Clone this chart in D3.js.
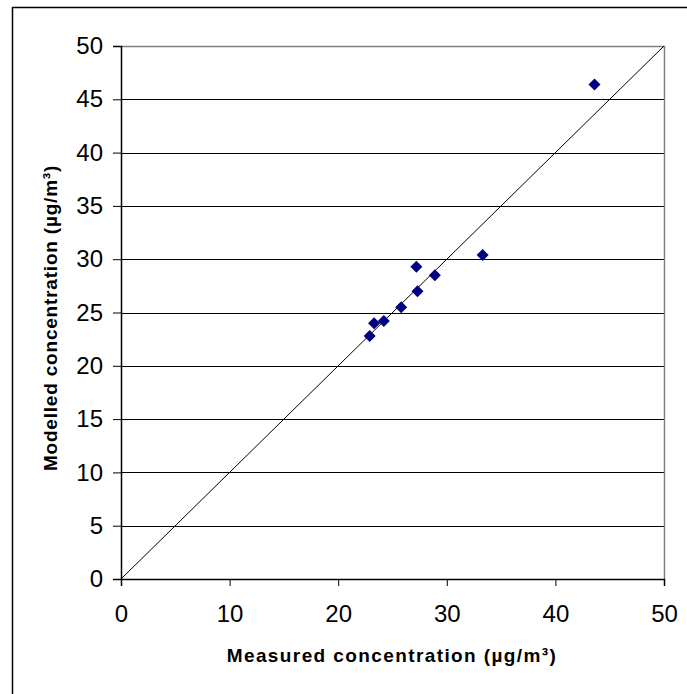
<!DOCTYPE html>
<html><head><meta charset="utf-8">
<script src="https://cdn.jsdelivr.net/npm/d3@7"></script>
<style>body{margin:0;background:#fff;} svg{display:block;}</style>
</head><body>
<svg id="c" width="687" height="694"></svg>
<script>
const measured = [22.9, 23.3, 24.2, 25.8, 27.3, 27.2, 28.9, 33.3, 43.6];
const modelled = [22.8, 24.0, 24.2, 25.5, 27.0, 29.3, 28.5, 30.4, 46.4];
const xTicks = [0, 10, 20, 30, 40, 50];
const yTicks = [0, 5, 10, 15, 20, 25, 30, 35, 40, 45, 50];
const xTitle = "Measured concentration (µg/m³)";
const yTitle = "Modelled concentration (µg/m³)";

const svg = d3.select("#c");
const L = 121, R = 664, T = 46, B = 579;
const x = d3.scaleLinear().domain([0, 50]).range([L, R]);
const y = d3.scaleLinear().domain([0, 50]).range([B, T]);
const font = "Arial, 'Liberation Sans', sans-serif";

// outer border
svg.append("rect").attr("x", 12.5).attr("y", 7.5).attr("width", 700).attr("height", 700)
  .attr("fill", "none").attr("stroke", "#000").attr("stroke-width", 1.5);

// gridlines
svg.append("g").selectAll("line").data(yTicks.filter(d => d > 0 && d < 50)).join("line")
  .attr("x1", L).attr("x2", R).attr("y1", d => Math.round(y(d)) + 0.5).attr("y2", d => Math.round(y(d)) + 0.5)
  .attr("stroke", "#000").attr("stroke-width", 1);

// plot border top/right grey
svg.append("path").attr("d", `M${L},${T + 0.5}H${R + 0.5}V${B}`)
  .attr("fill", "none").attr("stroke", "#808080").attr("stroke-width", 1.5);

// diagonal
svg.append("line").attr("x1", x(0)).attr("y1", y(0)).attr("x2", x(50)).attr("y2", y(50))
  .attr("stroke", "#000").attr("stroke-width", 1);

// axes
const yAxis = svg.append("g").attr("transform", `translate(${L},0)`)
  .call(d3.axisLeft(y).tickValues(yTicks).tickSizeOuter(0).tickSize(8).tickPadding(10));
const xAxis = svg.append("g").attr("transform", `translate(0,${B})`)
  .call(d3.axisBottom(x).tickValues(xTicks).tickSizeOuter(0).tickSize(7).tickPadding(19));
[yAxis, xAxis].forEach(a => {
  a.select(".domain").attr("stroke", "#000").attr("stroke-width", 1.5);
  a.selectAll(".tick line").attr("stroke", "#000").attr("stroke-width", 1);
  a.selectAll("text").attr("font-family", font).attr("font-size", 24).attr("fill", "#000");
});

// points
svg.append("g").selectAll("path").data(measured.map((m, i) => [m, modelled[i]])).join("path")
  .attr("transform", d => `translate(${x(d[0])},${y(d[1])})`)
  .attr("d", "M0,-6L6,0L0,6L-6,0Z").attr("fill", "#000080");

// titles
svg.append("text").attr("x", 392).attr("y", 662).attr("text-anchor", "middle")
  .attr("font-family", font).attr("font-weight", "bold").attr("font-size", 19)
  .attr("letter-spacing", 1.4).text(xTitle);
svg.append("text").attr("transform", `translate(57,318) rotate(-90)`).attr("text-anchor", "middle")
  .attr("font-family", font).attr("font-weight", "bold").attr("font-size", 19)
  .attr("letter-spacing", 0.8).text(yTitle);
</script>
</body></html>
